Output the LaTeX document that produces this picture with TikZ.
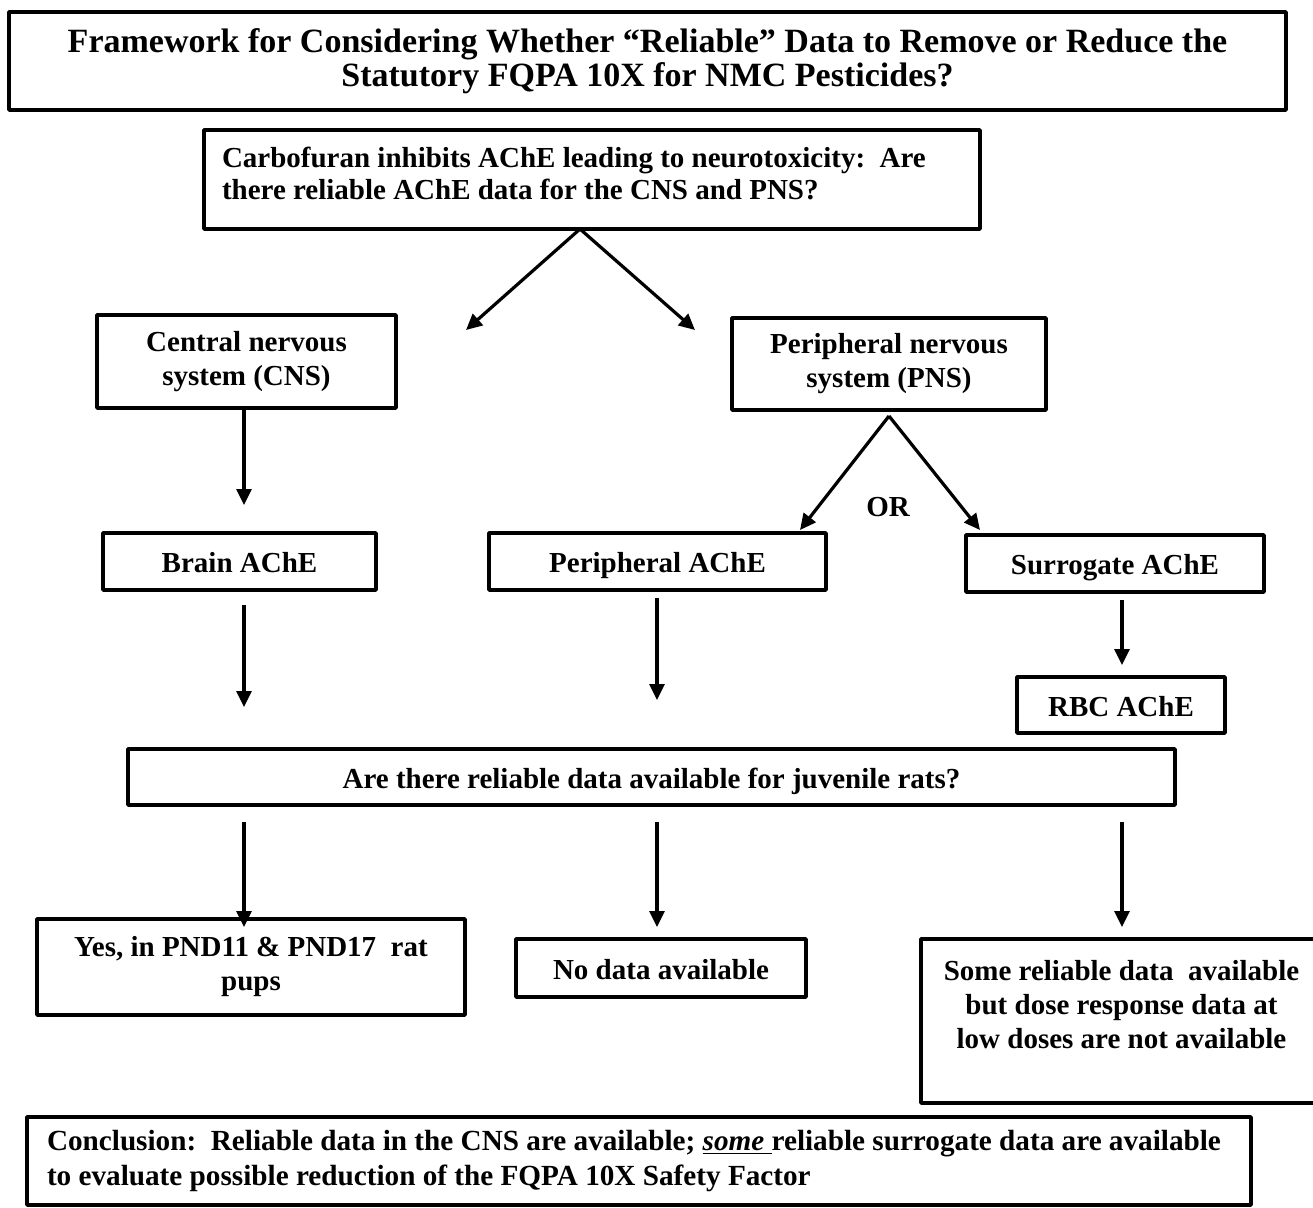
\documentclass[tikz,border=0pt]{standalone}
\usepackage{fontspec}
\setmainfont{Liberation Serif}
\usetikzlibrary{arrows.meta}

\begin{document}
\begin{tikzpicture}[x=0.5pt,y=-0.5pt,>={Triangle[length=8pt,width=7.5pt]},line join=bevel,
  box/.style={draw,line width=1.8pt,inner sep=0pt,align=center,font=\bfseries\fontsize{14.5}{17}\selectfont},
  oneline/.style={text height=11pt,text depth=0pt},
  flow/.style={->,line width=1.6pt}]
  \useasboundingbox (0,0) rectangle (1313,1207);
  % boxes
  \node (title) at (647.5,61) [box,minimum width=638.5pt,minimum height=49pt,font=\bfseries\fontsize{17}{17}\selectfont]
    {Framework for Considering Whether “Reliable” Data to Remove or Reduce the\\Statutory FQPA 10X for NMC Pesticides?};
  \node (question) at (592,179.5) [box,align=flush left,text width=370pt,inner xsep=9pt,minimum height=49.5pt,
    text height=10pt,text depth=22pt,font=\bfseries\fontsize{14.5}{16}\selectfont]
    {Carbofuran inhibits AChE leading to neurotoxicity:~~Are\\there reliable AChE data for the CNS and PNS?};
  \node (cns) at (246.5,361.5) [box,minimum width=149.5pt,minimum height=46.5pt] {Central nervous\\system (CNS)};
  \node (pns) at (889,364) [box,minimum width=157pt,minimum height=46pt] {Peripheral nervous\\system (PNS)};
  \node (brain) at (239.5,561.5) [box,oneline,minimum width=136.5pt,minimum height=28.5pt] {Brain AChE};
  \node (periph) at (657.5,561.5) [box,oneline,minimum width=168.5pt,minimum height=28.5pt] {Peripheral AChE};
  \node (surrogate) at (1115,563.5) [box,oneline,minimum width=149pt,minimum height=28.5pt] {Surrogate AChE};
  \node (rbc) at (1121,705) [box,oneline,minimum width=104pt,minimum height=28pt] {RBC AChE};
  \node (juvenile) at (651.5,777) [box,oneline,minimum width=523.5pt,minimum height=28pt]
    {Are there reliable data available for juvenile rats?};
  \node (yes) at (251,967) [box,minimum width=214pt,minimum height=48pt] {Yes, in PND11 \& PND17~~rat\\pups};
  \node (nodata) at (661,968) [box,oneline,minimum width=145pt,minimum height=29pt] {No data available};
  \node (some) at (1121.5,1021) [box,minimum width=200.5pt,minimum height=82pt]
    {Some reliable data~~available\\but dose response data at\\low doses are not available\\\mbox{}};
  \node (conclusion) at (639,1161) [box,align=flush left,text width=592pt,inner xsep=10pt,minimum height=44pt,
    font=\bfseries\fontsize{14.6}{17.5}\selectfont]
    {Conclusion:~~Reliable data in the CNS are available; \underline{\textit{some}\ }reliable surrogate data are available\\to evaluate possible reduction of the FQPA 10X Safety Factor};
  \node (or) at (888,507) [font=\bfseries\fontsize{14.5}{17}\selectfont] {OR};
  % arrow ends
  \coordinate (q-fork) at (580,229); \coordinate (q-left) at (466,330); \coordinate (q-right) at (695,330);
  \coordinate (p-fork) at (889,416); \coordinate (p-left) at (800,530); \coordinate (p-right) at (980,530);
  \coordinate (cns-end) at (244,505);
  \coordinate (brain-start) at (244,605); \coordinate (brain-end) at (244,707);
  \coordinate (periph-start) at (657,598); \coordinate (periph-end) at (657,700);
  \coordinate (sur-start) at (1122,600); \coordinate (sur-end) at (1122,665);
  \coordinate (j1) at (244,822); \coordinate (j1-end) at (244,927);
  \coordinate (j2) at (657,822); \coordinate (j2-end) at (657,927);
  \coordinate (j3) at (1122,822); \coordinate (j3-end) at (1122,927);
  % arrows
  \draw [flow] (q-fork) -- (q-left); \draw [flow] (q-fork) -- (q-right);
  \draw [flow] (p-fork) -- (p-left); \draw [flow] (p-fork) -- (p-right);
  \draw [flow] (cns.south -| cns-end) -- (cns-end);
  \draw [flow] (brain-start) -- (brain-end); \draw [flow] (periph-start) -- (periph-end);
  \draw [flow] (sur-start) -- (sur-end);
  \draw [flow] (j1) -- (j1-end); \draw [flow] (j2) -- (j2-end); \draw [flow] (j3) -- (j3-end);
\end{tikzpicture}
\end{document}
